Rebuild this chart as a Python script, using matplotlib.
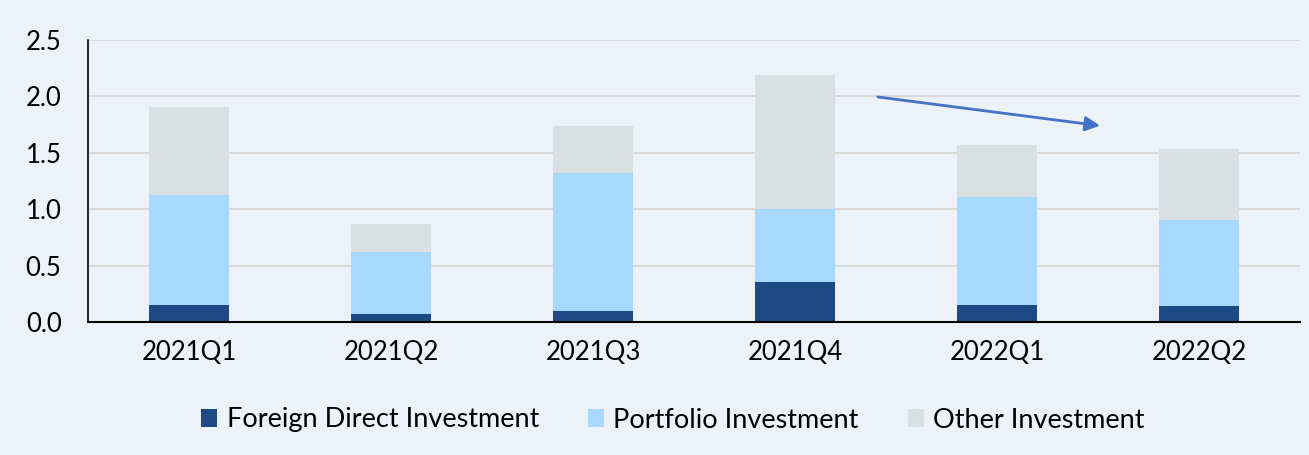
import numpy as np
import matplotlib.pyplot as plt
from matplotlib.patches import Patch

quarters = ['2021Q1', '2021Q2', '2021Q3', '2021Q4', '2022Q1', '2022Q2']
fdi = [0.15, 0.07, 0.10, 0.355, 0.15, 0.145]
portfolio = [0.98, 0.55, 1.22, 0.645, 0.96, 0.76]
other = [0.78, 0.25, 0.42, 1.19, 0.46, 0.63]
series_names = ['Foreign Direct Investment', 'Portfolio Investment', 'Other Investment']

bg = '#EDF2F9'
colors = ['#1D4A85', '#A7D8FF', '#DADFE1']

plt.rcParams['font.family'] = ['Lato', 'DejaVu Sans']

fig = plt.figure(figsize=(13.09, 4.55), dpi=100, facecolor=bg)
ax = fig.add_axes([88 / 1309, 1 - 322 / 455, (1300 - 88) / 1309, (322 - 40) / 455])
ax.set_facecolor(bg)

x = np.arange(len(quarters))
w = 0.4
bottom = np.zeros(len(quarters))
for vals, c in zip([fdi, portfolio, other], colors):
    ax.bar(x, vals, w, bottom=bottom, color=c, zorder=3)
    bottom += np.array(vals)

ax.set_xlim(-0.5, len(quarters) - 0.5)
ax.set_ylim(0, 2.5)
ax.set_yticks(np.arange(0, 2.51, 0.5))
ax.set_yticklabels([f'{v:.1f}' for v in np.arange(0, 2.51, 0.5)])
ax.set_xticks(x)
ax.set_xticklabels(quarters)
ax.tick_params(axis='both', length=0, labelsize=18.5)
ax.tick_params(axis='y', pad=19)
ax.tick_params(axis='x', pad=13)
ax.grid(axis='y', color='#D9D9D9', linewidth=1.5, zorder=0)
for s in ['top', 'right']:
    ax.spines[s].set_visible(False)
ax.spines['left'].set_color('black')
ax.spines['bottom'].set_color('black')
ax.spines['left'].set_linewidth(1.2)
ax.spines['bottom'].set_linewidth(1.5)
ax.spines['left'].set_zorder(4)
ax.spines['bottom'].set_zorder(4)

# trend arrow
ax.annotate('', xy=(4.51, 1.74), xytext=(3.41, 1.995),
            arrowprops=dict(arrowstyle='-|>', color='#4472C4', lw=2,
                            mutation_scale=22, shrinkA=0, shrinkB=0), zorder=5)

handles = [Patch(facecolor=c) for c in colors]
fig.legend(handles, series_names, loc='center', bbox_to_anchor=(0.514, 1 - 420 / 455),
           ncol=3, frameon=False, fontsize=19.5, handlelength=0.6, handleheight=0.6,
           handletextpad=0.35, columnspacing=1.8)

fig.savefig('out.png', dpi=100, facecolor=bg)
